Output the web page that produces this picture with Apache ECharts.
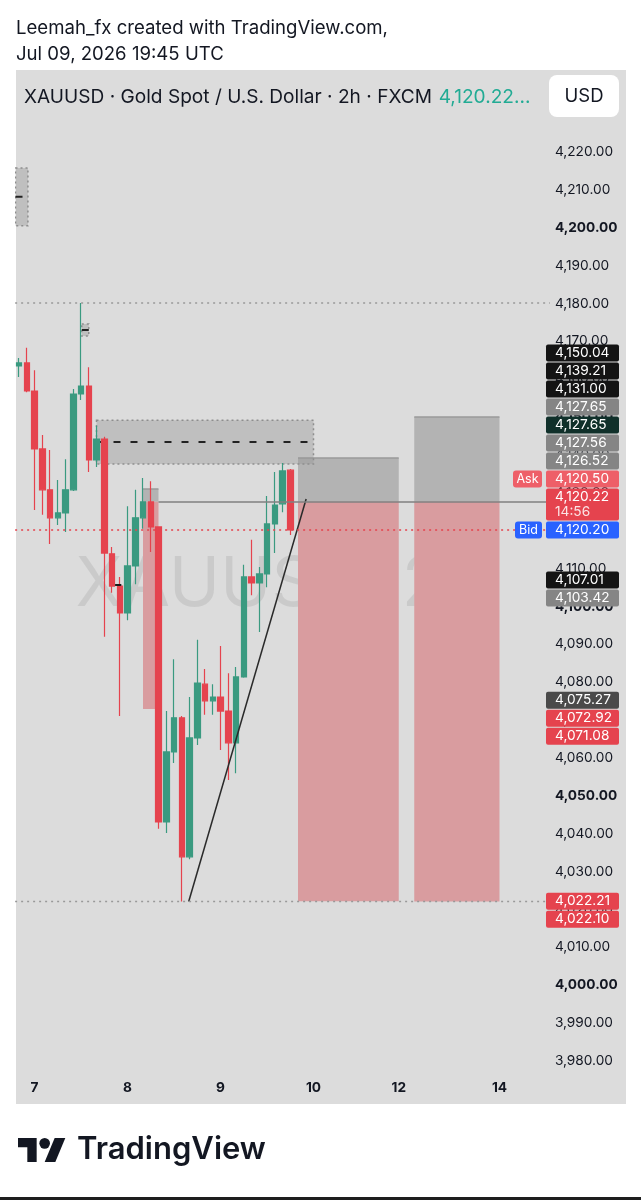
<!DOCTYPE html>
<html>
<head>
<meta charset="utf-8">
<script src="https://cdn.jsdelivr.net/npm/echarts@6/dist/echarts.min.js"></script>
<style>
html, body { margin: 0; padding: 0; background: #fff; }
#main { width: 641px; height: 1200px; }
</style>
</head>
<body>
<div id="main"></div>
<script>
// XAUUSD 2h candles (open, close, low, high)
const opens  = [4163.5, 4164.3, 4156.9, 4141.6, 4130.8, 4123.4, 4124.7, 4130.8, 4156.1, 4158.2, 4138.7, 4144.2,
                4113.9, 4105.4, 4098.3, 4110.7, 4123.4, 4127.6, 4121.0, 4043.1, 4061.6, 4070.6, 4033.9, 4065.3,
                4079.5, 4075.1, 4076.1, 4072.4, 4064.0, 4081.4, 4107.8, 4106.2, 4108.6, 4121.8, 4127.1, 4136.0];
const closes = [4164.3, 4156.9, 4141.6, 4130.8, 4123.4, 4124.7, 4130.8, 4156.1, 4158.2, 4138.7, 4144.2, 4114.1,
                4105.4, 4098.3, 4110.7, 4123.4, 4127.6, 4121.0, 4043.1, 4061.6, 4070.6, 4033.9, 4065.3, 4079.8,
                4075.1, 4076.1, 4072.4, 4064.0, 4081.4, 4107.8, 4106.2, 4108.6, 4121.8, 4126.8, 4135.8, 4120.2];
const lows   = [4160.6, 4156.6, 4125.5, 4124.2, 4116.5, 4121.5, 4119.7, 4130.5, 4154.5, 4135.5, 4136.8, 4092.0,
                4103.6, 4071.1, 4096.4, 4105.9, 4120.5, 4114.4, 4041.3, 4040.2, 4058.7, 4022.1, 4033.3, 4063.4,
                4071.4, 4071.4, 4062.1, 4054.2, 4056.0, 4081.2, 4103.0, 4093.3, 4105.1, 4114.1, 4124.9, 4118.9];
const highs  = [4165.6, 4168.3, 4162.4, 4145.3, 4141.3, 4133.4, 4138.9, 4157.4, 4180.1, 4163.2, 4147.7, 4144.8,
                4115.7, 4107.8, 4126.5, 4130.8, 4133.9, 4133.1, 4121.2, 4072.4, 4086.1, 4071.1, 4076.1, 4091.2,
                4083.5, 4079.5, 4089.6, 4082.4, 4084.0, 4111.0, 4117.6, 4110.4, 4129.2, 4135.5, 4137.9, 4136.3];

// time axis: bar slots and day labels
const slotCount = 69;
const dayTickSlot  = [2, 14, 26, 38, 49, 62];
const dayTickLabel = ['7', '8', '9', '10', '12', '14'];

// price scale
const priceMin = 3970, priceMax = 4230, priceStep = 10;

// short position tools (bar index from/to, prices)
const posFrom   = [16, 36, 51];
const posTo     = [18, 49, 62];
const posEntry  = [4127.65, 4127.65, 4127.65];
const posStop   = [4131.00, 4139.21, 4150.04];
const posTarget = [4072.92, 4022.21, 4022.10];

// rectangle zones with dashed middle line
const zoneFrom   = [-0.45, 10, 8.1];
const zoneTo     = [1.15, 38, 9.0];
const zoneTop    = [4215.8, 4149.2, 4174.6];
const zoneBottom = [4200.5, 4137.6, 4171.4];
const zoneMid    = [4208.2, 4143.4, 4173.0];

// lines
const trendStart = [21.9, 4022.1];
const trendEnd   = [37.05, 4128.4];
const rayStart   = [18, 4127.56];
const dottedLevels = [4180.1, 4022.1];
const bidPrice = 4120.20;
const tinyDash = [[12.4, 4105.7], [13.2, 4105.7]];

// price scale tags
const tagPrices = [4150.04, 4139.21, 4131.00, 4127.65, 4127.65, 4127.56, 4126.52, 4120.50, 4120.22, 4120.20,
                   4107.01, 4103.42, 4075.27, 4072.92, 4071.08, 4022.21, 4022.10];
const countdown = '14:56';
const lastIdx = 8, bidIdx = 9, askIdx = 7;

const GREEN = '#3a9a80', RED = '#e5434e';
const TAG_FILL = ['#141414', '#141414', '#141414', '#858585', '#10302a', '#858585', '#858585', '#ee5f68', RED, '#2962ff',
                  '#141414', '#858585', '#4a4a4a', RED, RED, RED, RED];
const FONT = 'Inter, "Noto Sans", sans-serif';
const INK = '#131722';
const AXIS_FS = 13.7;

const fmt = v => Number(v).toLocaleString('en-US', { minimumFractionDigits: 2, maximumFractionDigits: 2 });

const categories = [];
for (let i = 0; i < slotCount; i++) {
    const k = dayTickSlot.indexOf(i);
    categories.push(k >= 0 ? dayTickLabel[k] : '');
}
const candles = opens.map((o, i) => [o, closes[i], lows[i], highs[i]]);
const positions = posFrom.map((f, i) => [f, posTo[i], posEntry[i], posStop[i], posTarget[i]]);
const zones = zoneFrom.map((f, i) => [f, zoneTo[i], zoneTop[i], zoneBottom[i], zoneMid[i]]);
const xEnd = slotCount - 0.5;

function renderPosition(params, api) {
    const a = api.coord([api.value(0), api.value(3)]);
    const b = api.coord([api.value(1), api.value(2)]);
    const c = api.coord([api.value(1), api.value(4)]);
    return { type: 'group', children: [
        { type: 'rect', shape: { x: a[0], y: a[1], width: b[0] - a[0], height: b[1] - a[1] }, style: { fill: '#b3b3b3' } },
        { type: 'rect', shape: { x: a[0], y: b[1], width: b[0] - a[0], height: c[1] - b[1] }, style: { fill: '#d99c9f' } },
        { type: 'line', shape: { x1: a[0], y1: a[1], x2: b[0], y2: a[1] }, style: { stroke: '#9a9a9a', lineWidth: 1.5 } }
    ] };
}

function renderZone(params, api) {
    const a = api.coord([api.value(0), api.value(2)]);
    const b = api.coord([api.value(1), api.value(3)]);
    const m = api.coord([api.value(0), api.value(4)]);
    return { type: 'group', children: [
        { type: 'rect', shape: { x: a[0], y: a[1], width: b[0] - a[0], height: b[1] - a[1] },
          style: { fill: 'rgba(150,150,150,0.42)', stroke: '#8e8e8e', lineWidth: 1.5, lineDash: [2, 3] } },
        { type: 'line', shape: { x1: a[0], y1: m[1], x2: b[0], y2: m[1] },
          style: { stroke: '#222', lineWidth: 2, lineDash: [7, 10] } }
    ] };
}

function lineSeries(data, color, width, type, z) {
    return { type: 'line', xAxisIndex: 1, yAxisIndex: 0, data: data, symbol: 'none', silent: true, z: z || 4,
             lineStyle: { color: color, width: width, type: type || 'solid' }, animation: false };
}

const series = [
    { type: 'custom', xAxisIndex: 1, yAxisIndex: 0, data: positions, renderItem: renderPosition, clip: true, z: 1,
      encode: { x: [0, 1], y: [2, 3, 4] }, silent: true },
    { type: 'custom', xAxisIndex: 1, yAxisIndex: 0, data: zones, renderItem: renderZone, clip: true, z: 1,
      encode: { x: [0, 1], y: [2, 3, 4] }, silent: true },
    { type: 'candlestick', xAxisIndex: 0, yAxisIndex: 0, data: candles, barWidth: 6, z: 3,
      itemStyle: { color: GREEN, color0: RED, borderColor: GREEN, borderColor0: RED, borderWidth: 1.2 } },
    lineSeries([trendStart, trendEnd], '#2a2a2a', 1.5),
    lineSeries([rayStart, [xEnd, rayStart[1]]], '#808080', 1.5),
    lineSeries([[-0.5, bidPrice], [xEnd, bidPrice]], RED, 1.5, [2, 4]),
    lineSeries(tinyDash, '#1a1a1a', 2)
];
dottedLevels.forEach(p => series.push(lineSeries([[-0.5, p], [xEnd, p]], '#999999', 1.5, [2, 4])));

function staticGraphics() {
    return [
        { type: 'rect', z: -10, shape: { x: 16, y: 70, width: 610, height: 1034 }, style: { fill: '#dcdcdc' } },
        { type: 'text', z: -5, style: { x: 280, y: 585, text: 'XAUUSD, 2h', fontSize: 69, fontFamily: FONT,
          fill: 'rgba(0,0,0,0.08)', align: 'center', verticalAlign: 'middle' } },
        { type: 'text', z: 100, style: { x: 16, y: 28, text: 'Leemah_fx created with TradingView.com,', fontSize: 18.6,
          fontFamily: FONT, fill: INK, verticalAlign: 'middle' } },
        { type: 'text', z: 100, style: { x: 16, y: 54, text: 'Jul 09, 2026 19:45 UTC', fontSize: 18.6,
          fontFamily: FONT, fill: INK, verticalAlign: 'middle' } },
        { type: 'text', z: 100, style: { x: 24, y: 97, verticalAlign: 'middle',
          text: '{a|XAUUSD · Gold Spot / U.S. Dollar · 2h · FXCM}  {b|4,120.22...}',
          rich: { a: { fontSize: 19.1, fontFamily: FONT, fill: INK }, b: { fontSize: 19.1, fontFamily: FONT, fill: '#22ab94' } } } },
        { type: 'rect', z: 100, shape: { x: 549, y: 75, width: 70, height: 42, r: 8 }, style: { fill: '#ffffff' } },
        { type: 'text', z: 101, style: { x: 584, y: 96, text: 'USD', fontSize: 18.5, fontFamily: FONT, fill: INK,
          align: 'center', verticalAlign: 'middle' } },
        { type: 'group', x: 18, y: 1132.7, scaleX: 1.333, scaleY: 1.333, z: 100, children: [
            { type: 'polygon', shape: { points: [[0, 4], [14, 4], [14, 22], [7, 22], [7, 11], [0, 11]] }, style: { fill: INK } },
            { type: 'polygon', shape: { points: [[20, 22], [28, 22], [35.5, 4], [27.5, 4]] }, style: { fill: INK } },
            { type: 'circle', shape: { cx: 20, cy: 8, r: 4 }, style: { fill: INK } }
        ] },
        { type: 'text', z: 100, style: { x: 77, y: 1150, text: 'TradingView', fontSize: 31, fontWeight: 600,
          fontFamily: FONT, fill: INK, verticalAlign: 'middle' } },
        { type: 'rect', z: 100, shape: { x: 0, y: 1197, width: 641, height: 3 }, style: { fill: '#1e1e1e' } }
    ];
}

const chart = echarts.init(document.getElementById('main'));
chart.setOption({
    animation: false,
    grid: { left: 15.125, top: 114.125, width: 534.75, height: 984.75 },
    xAxis: [
        { type: 'category', data: categories, boundaryGap: true,
          axisLine: { show: false }, axisTick: { show: false }, splitLine: { show: false },
          axisLabel: { inside: true, interval: 0, margin: 4, color: INK, fontSize: AXIS_FS, fontWeight: 'bold', fontFamily: FONT } },
        { type: 'value', min: -0.5, max: xEnd, show: false }
    ],
    yAxis: {
        type: 'value', position: 'right', min: priceMin, max: priceMax, interval: priceStep,
        axisLine: { show: false }, axisTick: { show: false }, splitLine: { show: false },
        axisLabel: {
            margin: 5, color: INK, fontSize: AXIS_FS, fontFamily: FONT,
            formatter: v => (v <= priceMin || v >= priceMax) ? '' : (v % 50 === 0 ? '{b|' + fmt(v) + '}' : fmt(v)),
            rich: { b: { fontWeight: 'bold', fontSize: AXIS_FS, fontFamily: FONT, color: INK } }
        }
    },
    series: series,
    graphic: staticGraphics()
});

// price tags on the scale: bid stays on its price, others stack away from it
function tagGraphics() {
    const n = tagPrices.length;
    const want = tagPrices.map(p => chart.convertToPixel({ yAxisIndex: 0 }, p));
    const h = tagPrices.map((p, i) => i === lastIdx ? 33 : 18);
    const y = want.slice();
    for (let i = bidIdx - 1; i >= 0; i--) y[i] = Math.min(want[i], y[i + 1] - h[i + 1] / 2 - h[i] / 2);
    for (let i = bidIdx + 1; i < n; i++) y[i] = Math.max(want[i], y[i - 1] + h[i - 1] / 2 + h[i] / 2);
    const els = [];
    tagPrices.forEach((p, i) => {
        els.push({ type: 'rect', z: 50, shape: { x: 546, y: y[i] - h[i] / 2 + 0.5, width: 73, height: h[i] - 1, r: 2 },
                   style: { fill: TAG_FILL[i] } });
        const ty = i === lastIdx ? y[i] - 7.5 : y[i];
        els.push({ type: 'text', z: 51, style: { x: 555, y: ty, text: fmt(p), fontSize: AXIS_FS, fontFamily: FONT,
                   fill: '#ffffff', verticalAlign: 'middle' } });
        if (i === lastIdx) {
            els.push({ type: 'text', z: 51, style: { x: 555, y: y[i] + 7.5, text: countdown, fontSize: AXIS_FS, fontFamily: FONT,
                       fill: 'rgba(255,255,255,0.85)', verticalAlign: 'middle' } });
        }
    });
    els.push({ type: 'rect', z: 50, shape: { x: 513, y: y[askIdx] - 8.5, width: 29, height: 17, r: 3 }, style: { fill: '#ee5f68' } });
    els.push({ type: 'text', z: 51, style: { x: 527.5, y: y[askIdx], text: 'Ask', fontSize: 12.5, fontFamily: FONT, fill: '#fff',
               align: 'center', verticalAlign: 'middle' } });
    els.push({ type: 'rect', z: 50, shape: { x: 515, y: y[bidIdx] - 8.5, width: 27, height: 17, r: 3 }, style: { fill: '#2962ff' } });
    els.push({ type: 'text', z: 51, style: { x: 528.5, y: y[bidIdx], text: 'Bid', fontSize: 12.5, fontFamily: FONT, fill: '#fff',
               align: 'center', verticalAlign: 'middle' } });
    return els;
}

chart.setOption({ graphic: staticGraphics().concat(tagGraphics()) });
</script>
</body>
</html>
